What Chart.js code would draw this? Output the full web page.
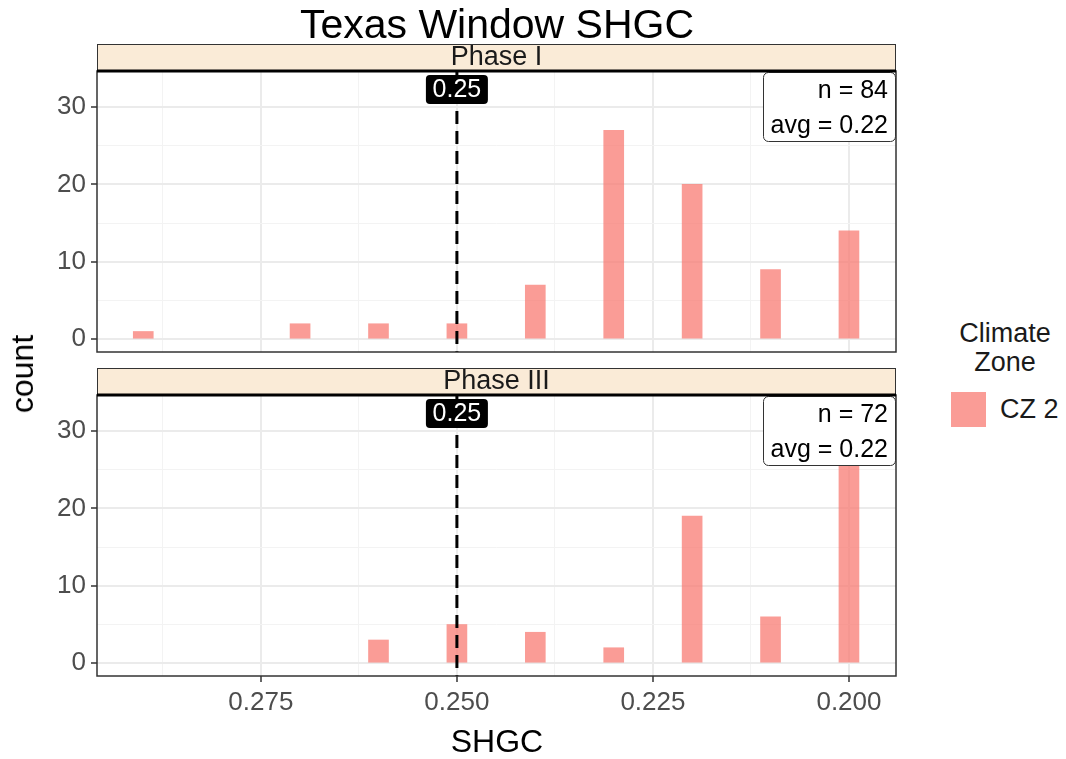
<!DOCTYPE html>
<html>
<head>
<meta charset="utf-8">
<script src="https://cdn.jsdelivr.net/npm/chart.js@4/dist/chart.umd.min.js"></script>
<style>
  body { margin: 0; background: #fff; font-family: "Liberation Sans", Arial, sans-serif; }
  #page { position: relative; width: 1066px; height: 759px; overflow: hidden; }
  canvas { position: absolute; left: 0; }
  .txt { position: absolute; white-space: nowrap; color: #000; line-height: 1; }
</style>
</head>
<body>
<div id="page">
  <canvas id="phase1" width="900" height="380" style="top:0"></canvas>
  <canvas id="phase3" width="900" height="399" style="top:360px"></canvas>
  <div class="txt" style="left:497px; top:24px; font-size:41px; transform:translate(-50%,-50%)">Texas Window SHGC</div>
  <div class="txt" style="left:22px; top:374px; font-size:32px; transform:translate(-50%,-50%) rotate(-90deg)">count</div>
  <div class="txt" style="left:497px; top:741px; font-size:32px; transform:translate(-50%,-50%)">SHGC</div>
  <div class="txt" style="left:1005px; top:333px; font-size:27px; color:#1a1a1a; transform:translate(-50%,-50%)">Climate</div>
  <div class="txt" style="left:1005px; top:362px; font-size:27px; color:#1a1a1a; transform:translate(-50%,-50%)">Zone</div>
  <div id="swatch" style="position:absolute; left:951px; top:392px; width:35px; height:35px;"></div>
  <div class="txt" style="left:1000px; top:409px; font-size:27px; color:#1a1a1a; transform:translate(0,-50%)">CZ 2</div>
</div>
<script>
// SHGC bins and window counts per phase
const shgcBins = [0.29, 0.28, 0.27, 0.26, 0.25, 0.24, 0.23, 0.22, 0.21, 0.20];
const phase1Counts = [1, 0, 2, 2, 2, 7, 27, 20, 9, 14];
const phase3Counts = [0, 0, 0, 3, 5, 4, 2, 19, 6, 33];
const phaseNames = ['Phase I', 'Phase III'];
const codeLimit = 0.25;
const yTicks = [0, 5, 10, 15, 20, 25, 30];
const xTicks = [0.2, 0.2125, 0.225, 0.2375, 0.25, 0.2625, 0.275, 0.2875];

const barColor = 'rgba(248, 118, 109, 0.72)';
const FONT = '"Liberation Sans", Arial, sans-serif';
document.getElementById('swatch').style.background = barColor;

function toPoints(counts) {
    const pts = [];
    shgcBins.forEach((x, i) => { if (counts[i] > 0) pts.push({ x: x, y: counts[i] }); });
    return pts;
}

function stats(counts) {
    let n = 0, s = 0;
    counts.forEach((c, i) => { n += c; s += c * shgcBins[i]; });
    return { n: n, avg: s / n };
}

const isMajorX = v => Math.abs(v * 40 - Math.round(v * 40)) < 1e-6;
const isMajorY = v => v % 10 === 0;
const tickVal = c => (c.tick ? c.tick.value : 0);

// strip, threshold line, labels and panel border
const facetPlugin = {
    id: 'facet',
    beforeDraw(chart) {
        const a = chart.chartArea, ctx = chart.ctx;
        const name = chart.options.plugins.facet.name;
        ctx.save();
        ctx.fillStyle = '#FAEBD7';
        ctx.fillRect(a.left, a.top - 27, a.right - a.left, 27);
        ctx.strokeStyle = '#333';
        ctx.lineWidth = 1;
        ctx.strokeRect(a.left + 0.5, a.top - 26.5, a.right - a.left - 1, 27);
        ctx.fillStyle = '#1a1a1a';
        ctx.font = '27px ' + FONT;
        ctx.textAlign = 'center';
        ctx.textBaseline = 'middle';
        ctx.fillText(name, (a.left + a.right) / 2, a.top - 13);
        ctx.restore();
    },
    afterDatasetsDraw(chart) {
        const a = chart.chartArea, ctx = chart.ctx;
        const opts = chart.options.plugins.facet;
        const xs = chart.scales.x.getPixelForValue(codeLimit);
        ctx.save();
        // dashed code limit
        ctx.strokeStyle = '#000';
        ctx.lineWidth = 3;
        ctx.setLineDash([13, 7]);
        ctx.beginPath();
        ctx.moveTo(xs, a.top);
        ctx.lineTo(xs, a.bottom);
        ctx.stroke();
        ctx.setLineDash([]);

        // value tag
        ctx.font = '25px ' + FONT;
        ctx.fillStyle = '#000';
        ctx.beginPath();
        ctx.roundRect(xs - 31, a.top + 4, 62, 29, 4);
        ctx.fill();
        ctx.fillStyle = '#fff';
        ctx.textAlign = 'center';
        ctx.textBaseline = 'middle';
        ctx.fillText(codeLimit.toFixed(2), xs, a.top + 19);

        // n / avg box
        const st = stats(opts.counts);
        ctx.fillStyle = '#fff';
        ctx.strokeStyle = '#333';
        ctx.lineWidth = 1;
        ctx.beginPath();
        ctx.roundRect(a.right - 132.5, a.top + 1.5, 132, 69, 5);
        ctx.fill();
        ctx.stroke();
        ctx.fillStyle = '#000';
        ctx.textAlign = 'right';
        ctx.fillText('n = ' + st.n, a.right - 8, a.top + 20);
        ctx.fillText('avg = ' + st.avg.toFixed(2), a.right - 8, a.top + 55);

        // panel border
        ctx.strokeStyle = '#333';
        ctx.lineWidth = 1.5;
        ctx.strokeRect(a.left, a.top, a.right - a.left, a.bottom - a.top);
        // thick line under the strip
        ctx.strokeStyle = '#000';
        ctx.lineWidth = 3;
        ctx.beginPath();
        ctx.moveTo(a.left, a.top);
        ctx.lineTo(a.right, a.top);
        ctx.stroke();
        ctx.restore();
    }
};

function makePanel(canvasId, idx, counts, showX) {
    const ctx = document.getElementById(canvasId).getContext('2d');
    return new Chart(ctx, {
        type: 'bar',
        data: {
            datasets: [{
                label: 'CZ 2',
                data: toPoints(counts),
                backgroundColor: barColor,
                borderWidth: 0,
                barThickness: 20,
                grouped: false
            }]
        },
        options: {
            responsive: false,
            animation: false,
            layout: { padding: showX ? { top: 35, right: 4, bottom: 0, left: 0 } : { top: 71, right: 4, bottom: 0, left: 0 } },
            plugins: {
                legend: { display: false },
                tooltip: { enabled: false },
                facet: { name: phaseNames[idx], counts: counts }
            },
            scales: {
                x: {
                    type: 'linear',
                    reverse: true,
                    offset: false,
                    min: 0.194,
                    max: 0.2959,
                    afterBuildTicks: s => { s.ticks = xTicks.map(v => ({ value: v })); },
                    afterFit: s => { s.height = showX ? 83 : 28; },
                    border: { display: false },
                    grid: {
                        offset: false,
                        color: c => isMajorX(tickVal(c)) ? '#EBEBEB' : '#F3F3F3',
                        lineWidth: c => isMajorX(tickVal(c)) ? 2 : 1,
                        drawTicks: showX,
                        tickLength: 6,
                        tickColor: c => isMajorX(tickVal(c)) ? '#333' : 'rgba(0,0,0,0)',
                        tickWidth: 1.5
                    },
                    ticks: {
                        display: showX,
                        autoSkip: false,
                        maxRotation: 0,
                        padding: 5,
                        color: '#4D4D4D',
                        font: { family: FONT, size: 26 },
                        callback: v => isMajorX(v) ? v.toFixed(3) : ''
                    }
                },
                y: {
                    min: -1.65,
                    max: 34.65,
                    afterBuildTicks: s => { s.ticks = yTicks.map(v => ({ value: v })); },
                    afterFit: s => { s.width = 97; },
                    border: { display: false },
                    grid: {
                        color: c => isMajorY(tickVal(c)) ? '#EBEBEB' : '#F3F3F3',
                        lineWidth: c => isMajorY(tickVal(c)) ? 2 : 1,
                        tickLength: 6,
                        tickColor: c => isMajorY(tickVal(c)) ? '#333' : 'rgba(0,0,0,0)',
                        tickWidth: 1.5
                    },
                    ticks: {
                        autoSkip: false,
                        padding: 5,
                        color: '#4D4D4D',
                        font: { family: FONT, size: 26 },
                        callback: v => isMajorY(v) ? String(v) : ''
                    }
                }
            }
        },
        plugins: [facetPlugin]
    });
}

makePanel('phase1', 0, phase1Counts, false);
makePanel('phase3', 1, phase3Counts, true);
</script>
</body>
</html>
